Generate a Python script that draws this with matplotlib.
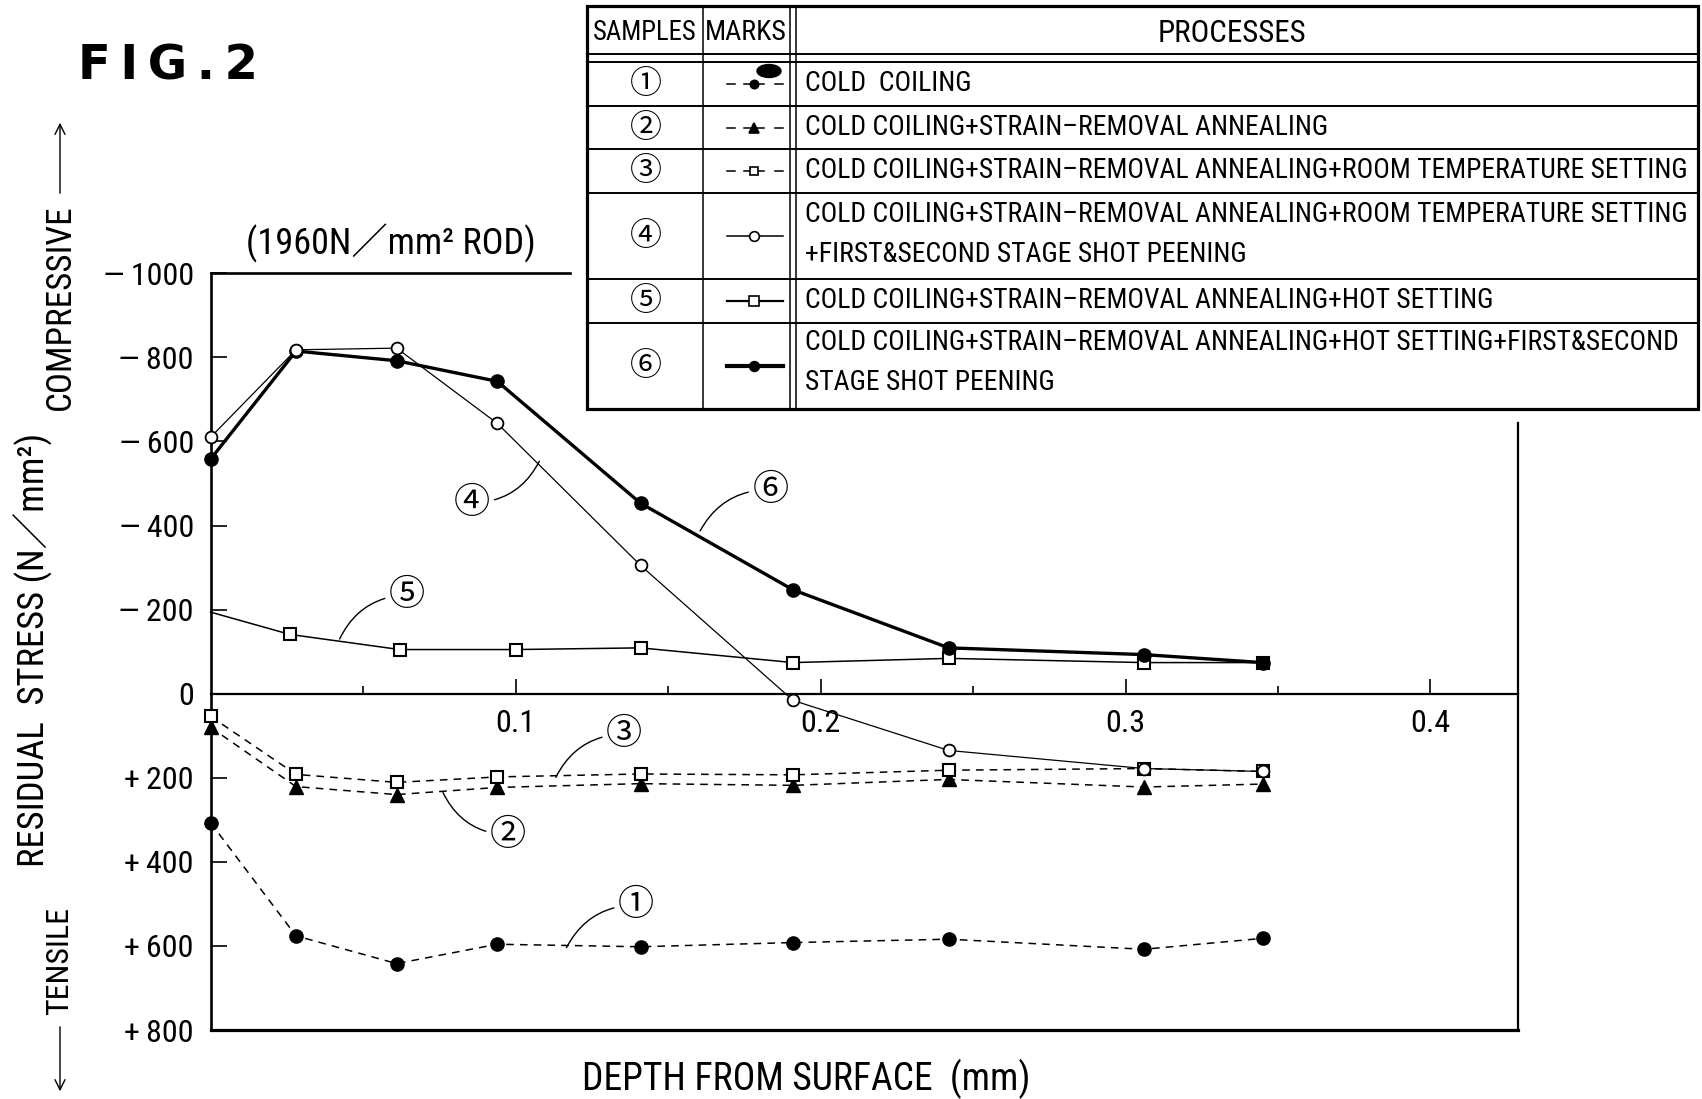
import matplotlib
matplotlib.use('Agg')
import matplotlib.pyplot as plt
from matplotlib import font_manager as fm
from matplotlib.lines import Line2D
from matplotlib.patches import Rectangle, Ellipse

# ------------------------------------------------------------------ data
depth = [0.0, 0.028, 0.061, 0.094, 0.141, 0.191, 0.242, 0.306, 0.345]
depth_5 = [0.0, 0.026, 0.062, 0.100, 0.141, 0.191, 0.242, 0.306, 0.345]

stress_1 = [307, 576, 642, 596, 602, 592, 584, 608, 582]
stress_2 = [80, 221, 240, 223, 214, 218, 204, 222, 215]
stress_3 = [54, 192, 211, 198, 191, 193, 182, 178, 185]
stress_4 = [-610, -818, -822, -643, -305, 16, 135, 178, 185]
stress_5 = [-194, -141, -105, -105, -109, -74, -84, -74, -74]
stress_6 = [-558, -815, -792, -743, -453, -247, -109, -93, -74]

y_ticks = [-1000, -800, -600, -400, -200, 0, 200, 400, 600, 800]
y_tick_labels = ['—\u20091000', '—\u2009800', '—\u2009600', '—\u2009400', '—\u2009200', '0',
                 '+\u2009200', '+\u2009400', '+\u2009600', '+\u2009800']
x_ticks = [0.1, 0.2, 0.3, 0.4]
x_tick_labels = ['0.1', '0.2', '0.3', '0.4']
x_minor_ticks = [0.05, 0.15, 0.25, 0.35]

sample_ids = ['①', '②', '③', '④', '⑤', '⑥']
process_lines = [
    ['COLD  COILING'],
    ['COLD COILING+STRAIN–REMOVAL ANNEALING'],
    ['COLD COILING+STRAIN–REMOVAL ANNEALING+ROOM TEMPERATURE SETTING'],
    ['COLD COILING+STRAIN–REMOVAL ANNEALING+ROOM TEMPERATURE SETTING',
     '+FIRST&SECOND STAGE SHOT PEENING'],
    ['COLD COILING+STRAIN–REMOVAL ANNEALING+HOT SETTING'],
    ['COLD COILING+STRAIN–REMOVAL ANNEALING+HOT SETTING+FIRST&SECOND',
     'STAGE SHOT PEENING'],
]

# ------------------------------------------------------------------ fonts
# prefer a narrow / condensed sans face if one is installed
BASE, STRETCH = 'Liberation Sans', 'normal'
narrow_names = {'Liberation Sans Narrow', 'Arial Narrow', 'Roboto Condensed',
                'Open Sans Condensed', 'DejaVu Sans Condensed', 'Noto Sans Condensed'}
found = None
for f in fm.fontManager.ttflist:
    try:
        w = f.weight if isinstance(f.weight, int) else {'normal': 400, 'regular': 400}.get(str(f.weight), 700)
    except Exception:
        w = 700
    if f.style != 'normal' or w > 500:
        continue
    st = f.stretch
    is_cond = (f.name in narrow_names) or (isinstance(st, str) and st.lower() in (
        'condensed', 'semi-condensed', 'extra-condensed')) or (isinstance(st, int) and st < 500)
    if is_cond and ('Sans' in f.name or 'Narrow' in f.name or 'Roboto' in f.name):
        found = f
        if 'Liberation' in f.name or 'Arial' in f.name:
            break
if found is not None:
    BASE = found.name
    st = found.stretch
    STRETCH = st if isinstance(st, str) else int(st)
plt.rcParams['font.family'] = [BASE, 'Noto Sans CJK JP', 'DejaVu Sans']
plt.rcParams['font.stretch'] = STRETCH

W, H = 1702, 1099
fig = plt.figure(figsize=(W / 100, H / 100), dpi=100)
fig.patch.set_facecolor('white')

# ------------------------------------------------------------------ main axes
ax_l, ax_r, ax_t, ax_b = 210.6, 1518.0, 273.3, 1030.0
ax = fig.add_axes([ax_l / W, 1 - ax_b / H, (ax_r - ax_l) / W, (ax_b - ax_t) / H])
ax.set_xlim(0, 0.4287)
ax.set_ylim(800, -1000)

ax.spines['top'].set_visible(False)
ax.spines['right'].set_visible(False)
ax.spines['bottom'].set_position(('data', 0))
ax.spines['bottom'].set_linewidth(1.6)
ax.spines['left'].set_linewidth(1.9)
ax.add_line(Line2D([0, 1], [0, 0], transform=ax.transAxes, color='k', lw=2.3, clip_on=False))
ax.add_line(Line2D([0, 0.275], [1, 1], transform=ax.transAxes, color='k', lw=1.9, clip_on=False))
ax.add_line(Line2D([1, 1], [0, 0.8026], transform=ax.transAxes, color='k', lw=1.6, clip_on=False))

ax.set_xticks(x_ticks)
ax.set_xticklabels(x_tick_labels)
ax.set_xticks(x_minor_ticks, minor=True)
ax.tick_params(axis='x', which='major', direction='in', length=10.8, width=1.2,
               pad=11, labelsize=23)
ax.tick_params(axis='x', which='minor', direction='in', length=5.8, width=1.2)
ax.set_yticks(y_ticks)
ax.set_yticklabels(y_tick_labels)
ax.tick_params(axis='y', direction='in', length=11.5, width=1.2, pad=12, labelsize=23)

dash = (0, (5, 4))
ax.plot(depth, stress_1, color='k', ls=dash, lw=1.1, marker='o', ms=9.5,
        mfc='k', mec='k', clip_on=False, zorder=3)
ax.plot(depth, stress_2, color='k', ls=dash, lw=1.1, marker='^', ms=10,
        mfc='k', mec='k', clip_on=False, zorder=3)
ax.plot(depth, stress_3, color='k', ls=dash, lw=1.1, marker='s', ms=8,
        mfc='white', mec='k', mew=1.5, clip_on=False, zorder=4)
ax.plot(depth, stress_4, color='k', ls='-', lw=0.9, marker='o', ms=8.5,
        mfc='white', mec='k', mew=1.3, clip_on=False, zorder=5)
ax.plot(depth_5, stress_5, color='k', ls='-', lw=1.1, marker='s', ms=8.5,
        mfc='white', mec='k', mew=1.5, markevery=slice(1, None), clip_on=False, zorder=3)
ax.plot(depth, stress_6, color='k', ls='-', lw=2.4, marker='o', ms=9.5,
        mfc='k', mec='k', clip_on=False, zorder=4)

# circled-number call-outs with curved leaders
callouts = [
    ('④', (0.0858, -454), (0.1078, -553), 0.3),
    ('⑥', (0.1836, -485), (0.1605, -387), 0.3),
    ('⑤', (0.0644, -235), (0.0423, -130), 0.3),
    ('③', (0.1356, 96), (0.1132, 199), 0.3),
    ('②', (0.0975, 336), (0.0762, 235), -0.3),
    ('①', (0.1395, 503), (0.1167, 604), 0.3),
]
for lab, xt, xe, rad in callouts:
    ax.annotate(lab, xy=xe, xytext=xt, ha='center', va='center', fontsize=26,
                arrowprops=dict(arrowstyle='-', lw=1.0, color='k', shrinkA=1, shrinkB=0,
                                connectionstyle=f'arc3,rad={rad}'), zorder=6)

# ------------------------------------------------------------------ overlay (pixel coords)
ov = fig.add_axes([0, 0, 1, 1], zorder=5)
ov.set_xlim(0, W)
ov.set_ylim(H, 0)
ov.axis('off')

t_fig = ov.text(78, 66, 'F\u2009I\u2009G\u2009.\u20092', fontsize=42, fontweight='bold',
                family='DejaVu Sans', stretch='normal', ha='left', va='center')
t_rod = ov.text(391, 243, '(1960N／mm² ROD)', fontsize=23, ha='center', va='center')
t_xlab = ov.text(806, 1079, 'DEPTH FROM SURFACE  (mm)', fontsize=26, ha='center', va='center')
t_ylab = ov.text(33, 650, 'RESIDUAL  STRESS (N／mm²)', fontsize=26, rotation=90,
                 ha='center', va='center')
t_comp = ov.text(60, 307, 'COMPRESSIVE', fontsize=26, rotation=90, ha='center', va='center')
t_tens = ov.text(60, 961, 'TENSILE', fontsize=26, rotation=90, ha='center', va='center')
ov.annotate('', xy=(60, 120), xytext=(60, 196),
            arrowprops=dict(arrowstyle='->', lw=1.0, color='k', mutation_scale=18))
ov.annotate('', xy=(60, 1094), xytext=(60, 1024),
            arrowprops=dict(arrowstyle='->', lw=1.0, color='k', mutation_scale=18))

# ------------------------------------------------------------------ table legend
tl, tr, tt, tb = 587, 1698, 6, 409
col1, col2a, col2b = 703, 789.5, 796
ov.add_patch(Rectangle((tl, tt), tr - tl, tb - tt, facecolor='white', edgecolor='k',
                       lw=2.3, zorder=1))
for x in (col1, col2a, col2b):
    ov.add_line(Line2D([x, x], [tt, tb], color='k', lw=1.1, zorder=2))
for y in (54.3, 61.7, 106, 149.3, 192.7, 279.3, 322.7):
    ov.add_line(Line2D([tl, tr], [y, y], color='k', lw=1.4, zorder=2))

hdr = [ov.text(645, 33, 'SAMPLES', fontsize=19, ha='center', va='center', zorder=3),
       ov.text(746, 33, 'MARKS', fontsize=19, ha='center', va='center', zorder=3),
       ov.text(1232, 33, 'PROCESSES', fontsize=19, ha='center', va='center', zorder=3)]

row_centers = [83.5, 127.7, 171, 236, 301, 366]
line_y = [[83.5], [127.7], [171], [215, 255], [300], [343, 383]]
proc_texts = []
for i in range(6):
    ov.text(645.8, row_centers[i], sample_ids[i], fontsize=23, ha='center', va='center', zorder=3)
    for j, s in enumerate(process_lines[i]):
        proc_texts.append(ov.text(805, line_y[i][j], s, fontsize=19, ha='left',
                                  va='center', zorder=3))

# marks column
mx0, mx1, mxc = 727, 783, 754
mark_styles = [
    dict(dashed=True, marker='o', mfc='k', lw=1.1, ms=6),
    dict(dashed=True, marker='^', mfc='k', lw=1.1, ms=7),
    dict(dashed=True, marker='s', mfc='white', lw=1.1, ms=6),
    dict(dashed=False, marker='o', mfc='white', lw=1.1, ms=7),
    dict(dashed=False, marker='s', mfc='white', lw=1.6, ms=7),
    dict(dashed=False, marker='o', mfc='k', lw=3.0, ms=7),
]
for yc, st in zip(row_centers, mark_styles):
    if st['dashed']:
        ov.add_line(Line2D([mx0, mx0 + 8], [yc, yc], color='k', lw=st['lw'], zorder=3))
        ov.add_line(Line2D([mx1 - 8, mx1], [yc, yc], color='k', lw=st['lw'], zorder=3))
        ov.add_line(Line2D([mxc - 10, mxc + 10], [yc, yc], color='k', lw=st['lw'], zorder=3))
    else:
        ov.add_line(Line2D([mx0, mx1], [yc, yc], color='k', lw=st['lw'], zorder=3))
    ov.add_line(Line2D([mxc], [yc], marker=st['marker'], ms=st['ms'], mfc=st['mfc'],
                       mec='k', mew=1.2, ls='none', zorder=4))
ov.add_patch(Ellipse((769, 71), 24, 13, facecolor='k', edgecolor='k', zorder=4))

# ------------------------------------------------------------------ fit text sizes
fig.canvas.draw()
rend = fig.canvas.get_renderer()


def fit(t, target, vertical=False):
    bb = t.get_window_extent(rend)
    cur = bb.height if vertical else bb.width
    if cur > 0:
        t.set_fontsize(t.get_fontsize() * target / cur)


fit(t_fig, 180)
fit(t_rod, 291)
fit(t_xlab, 448)
fit(t_ylab, 434, vertical=True)
fit(t_comp, 206, vertical=True)
fit(t_tens, 108, vertical=True)
fit(proc_texts[2], 880)
fs = proc_texts[2].get_fontsize()
for t in proc_texts:
    t.set_fontsize(fs)
fit(hdr[0], 104)
fit(hdr[1], 82)
fit(hdr[2], 150)

fig.savefig('out.png', dpi=100, facecolor='white')
